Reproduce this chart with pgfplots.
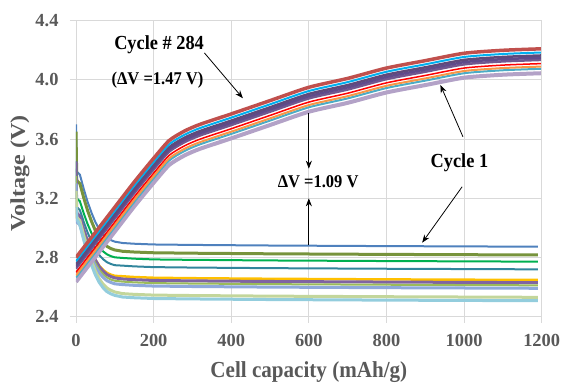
\documentclass[border=0pt]{standalone}
\usepackage{fontspec}
\setmainfont{Liberation Serif}[FakeStretch=0.92]
\newfontfamily\tickfont{Liberation Serif}
\newfontfamily\ylabfont{Liberation Serif}[FakeStretch=1.15]
\usepackage{pgfplots}
\usepackage{pgfplotstable}
\pgfplotsset{compat=1.18}
\usetikzlibrary{calc,arrows.meta}
\definecolor{gridgray}{HTML}{D9D9D9}
\definecolor{labgray}{HTML}{595959}
\definecolor{ch1}{HTML}{C0504D}
\definecolor{ch2}{HTML}{00B0F0}
\definecolor{ch3}{HTML}{604A7B}
\definecolor{ch4}{HTML}{5F4B8B}
\definecolor{ch5}{HTML}{72588F}
\definecolor{ch6}{HTML}{FF0000}
\definecolor{ch7}{HTML}{F79646}
\definecolor{ch8}{HTML}{4BACC6}
\definecolor{ch9}{HTML}{B3A2C7}
\definecolor{d1}{HTML}{4F81BD}
\definecolor{d2}{HTML}{77933C}
\definecolor{d3}{HTML}{00B050}
\definecolor{d4}{HTML}{31859C}
\definecolor{d5}{HTML}{FFC000}
\definecolor{d6}{HTML}{8064A2}
\definecolor{d7}{HTML}{9BBB59}
\definecolor{d8}{HTML}{8EA9DB}
\definecolor{d9}{HTML}{C3D69B}
\definecolor{d10}{HTML}{93CDDD}

\pgfplotstableread{
x c1 c2 c3 c4 c5 c6 c7 c8 c9
0 2.800 2.775 2.755 2.740 2.725 2.700 2.680 2.665 2.635
50 2.970 2.945 2.925 2.910 2.895 2.870 2.850 2.835 2.805
100 3.140 3.115 3.095 3.080 3.065 3.040 3.020 3.005 2.975
150 3.310 3.285 3.265 3.250 3.235 3.210 3.190 3.175 3.145
200 3.470 3.445 3.425 3.410 3.395 3.370 3.350 3.335 3.305
240 3.590 3.565 3.545 3.530 3.515 3.490 3.470 3.455 3.425
280 3.655 3.630 3.610 3.595 3.580 3.555 3.535 3.520 3.490
320 3.700 3.675 3.655 3.640 3.625 3.600 3.580 3.565 3.535
400 3.770 3.745 3.725 3.710 3.695 3.670 3.650 3.635 3.605
500 3.860 3.835 3.815 3.800 3.785 3.760 3.740 3.725 3.695
600 3.950 3.925 3.905 3.890 3.875 3.850 3.830 3.815 3.785
700 4.010 3.985 3.965 3.950 3.935 3.910 3.890 3.875 3.845
800 4.080 4.055 4.035 4.020 4.005 3.980 3.960 3.945 3.915
900 4.130 4.105 4.085 4.070 4.055 4.030 4.010 3.995 3.965
1000 4.180 4.155 4.135 4.120 4.105 4.080 4.060 4.045 4.015
1100 4.200 4.175 4.155 4.140 4.125 4.100 4.080 4.065 4.035
1198 4.210 4.185 4.165 4.150 4.135 4.110 4.090 4.075 4.045
}\charge

\pgfplotstableread{
x d1 d2 d3 d4 d5 d6 d7 d8 d9 d10
0 3.700 3.650 3.450 3.400 3.300 3.450 3.350 3.300 3.250 3.140
2 3.380 3.320 3.200 3.140 3.070 3.100 3.070 3.040 3.070 3.060
10 3.360 3.300 3.180 3.120 3.050 3.080 3.050 3.020 3.050 3.020
20 3.263 3.203 3.098 3.040 2.970 2.990 2.962 2.934 2.946 2.918
30 3.175 3.116 3.025 2.968 2.897 2.909 2.884 2.857 2.853 2.825
40 3.102 3.044 2.964 2.908 2.837 2.842 2.818 2.793 2.775 2.749
50 3.039 2.981 2.911 2.856 2.785 2.783 2.761 2.738 2.707 2.682
60 2.990 2.933 2.870 2.816 2.744 2.738 2.717 2.695 2.656 2.631
70 2.956 2.899 2.841 2.788 2.716 2.707 2.686 2.665 2.619 2.595
80 2.931 2.875 2.821 2.768 2.696 2.684 2.665 2.643 2.593 2.569
90 2.917 2.860 2.809 2.756 2.684 2.671 2.651 2.631 2.578 2.554
100 2.907 2.851 2.801 2.748 2.676 2.662 2.643 2.622 2.567 2.544
120 2.898 2.842 2.797 2.745 2.673 2.655 2.637 2.617 2.556 2.533
150 2.893 2.837 2.792 2.740 2.668 2.650 2.632 2.612 2.551 2.528
200 2.888 2.832 2.787 2.735 2.663 2.645 2.627 2.607 2.546 2.523
300 2.885 2.829 2.784 2.732 2.660 2.642 2.624 2.604 2.543 2.520
500 2.881 2.825 2.780 2.728 2.656 2.638 2.620 2.600 2.539 2.516
800 2.877 2.821 2.776 2.724 2.652 2.634 2.616 2.596 2.535 2.512
1190 2.873 2.817 2.772 2.720 2.648 2.630 2.612 2.592 2.531 2.508
}\discharge

\begin{document}
\begin{tikzpicture}
\begin{axis}[
  name=ax,
  scale only axis,
  width=465.7bp, height=296bp,
  xmin=0, xmax=1200, ymin=2.4, ymax=4.4,
  xtick={0,200,400,600,800,1000,1200},
  xticklabels={0,200,400,600,800,1000,1200},
  ytick={2.4,2.8,3.2,3.6,4.0,4.4},
  yticklabels={2.4,2.8,3.2,3.6,4.0,4.4},
  grid=major,
  grid style={draw=gridgray, line width=0.9bp},
  axis line style={draw=gridgray, line width=0.9bp},
  tick style={draw=gridgray, line width=0.9bp},
  tick align=outside,
  major tick length=6bp,
  xtick pos=bottom, ytick pos=left,
  tick label style={font=\tickfont\bfseries\fontsize{18.5}{22}\selectfont, text=labgray},
  yticklabel style={xshift=-8bp},
  xticklabel style={yshift=-8bp},
  xlabel={Cell capacity (mAh/g)},
  ylabel={Voltage (V)},
  xlabel style={font=\bfseries\fontsize{23}{26}\selectfont, text=labgray, at={(axis description cs:0.5,-0.2061)}, anchor=base},
  ylabel style={font=\ylabfont\bfseries\fontsize{21}{24}\selectfont, text=labgray, at={(axis description cs:-0.1203,0.484)}, anchor=center},
  clip=true,
]
\addplot[d1, line width=2bp] table[x=x, y=d1] {\discharge};
\addplot[d2, line width=3bp] table[x=x, y=d2] {\discharge};
\addplot[d3, line width=2bp] table[x=x, y=d3] {\discharge};
\addplot[d4, line width=2bp] table[x=x, y=d4] {\discharge};
\addplot[d5, line width=2.5bp] table[x=x, y=d5] {\discharge};
\addplot[d6, line width=3bp] table[x=x, y=d6] {\discharge};
\addplot[d7, line width=2bp] table[x=x, y=d7] {\discharge};
\addplot[d8, line width=3bp] table[x=x, y=d8] {\discharge};
\addplot[d9, line width=3bp] table[x=x, y=d9] {\discharge};
\addplot[d10, line width=3bp] table[x=x, y=d10] {\discharge};

\addplot[ch9, line width=4bp, smooth, tension=0.4] table[x=x, y=c9] {\charge};
\addplot[ch8, line width=2bp, smooth, tension=0.4] table[x=x, y=c8] {\charge};
\addplot[ch7, line width=2bp, smooth, tension=0.4] table[x=x, y=c7] {\charge};
\addplot[ch6, line width=1.5bp, smooth, tension=0.4] table[x=x, y=c6] {\charge};
\addplot[ch5, line width=2.5bp, smooth, tension=0.4] table[x=x, y=c5] {\charge};
\addplot[ch4, line width=2.5bp, smooth, tension=0.4] table[x=x, y=c4] {\charge};
\addplot[ch3, line width=2.5bp, smooth, tension=0.4] table[x=x, y=c3] {\charge};
\addplot[ch2, line width=2bp, smooth, tension=0.4] table[x=x, y=c2] {\charge};
\addplot[ch1, line width=3.5bp, smooth, tension=0.4] table[x=x, y=c1] {\charge};

\node[font=\bfseries\fontsize{20}{22}\selectfont] at (axis cs:214,4.238) {Cycle \# 284};
\node[font=\bfseries\fontsize{18}{20}\selectfont] at (axis cs:210,4.0) {(ΔV =1.47 V)};
\node[font=\bfseries\fontsize{18}{20}\selectfont] at (axis cs:624,3.312) {ΔV =1.09 V};
\node[font=\bfseries\fontsize{20}{22}\selectfont] at (axis cs:988,3.443) {Cycle 1};
\draw[black, line width=0.8bp, -{Stealth[length=8bp,width=6bp]}] (axis cs:331,4.182) -- (axis cs:430,3.876);
\draw[black, line width=0.8bp, -{Stealth[length=8bp,width=6bp]}] (axis cs:600,3.776) -- (axis cs:600,3.40);
\draw[black, line width=0.8bp, -{Stealth[length=8bp,width=6bp]}] (axis cs:600,2.884) -- (axis cs:600,3.20);
\draw[black, line width=0.8bp, -{Stealth[length=8bp,width=6bp]}] (axis cs:997,3.616) -- (axis cs:939,3.966);
\draw[black, line width=0.8bp, -{Stealth[length=8bp,width=6bp]}] (axis cs:995,3.278) -- (axis cs:892,2.90);
\end{axis}
\pgfresetboundingbox
\path[use as bounding box] ($(ax.south west)+(-76bp,-66.3bp)$) rectangle ($(ax.north east)+(19.3bp,20.7bp)$);
\end{tikzpicture}
\end{document}
